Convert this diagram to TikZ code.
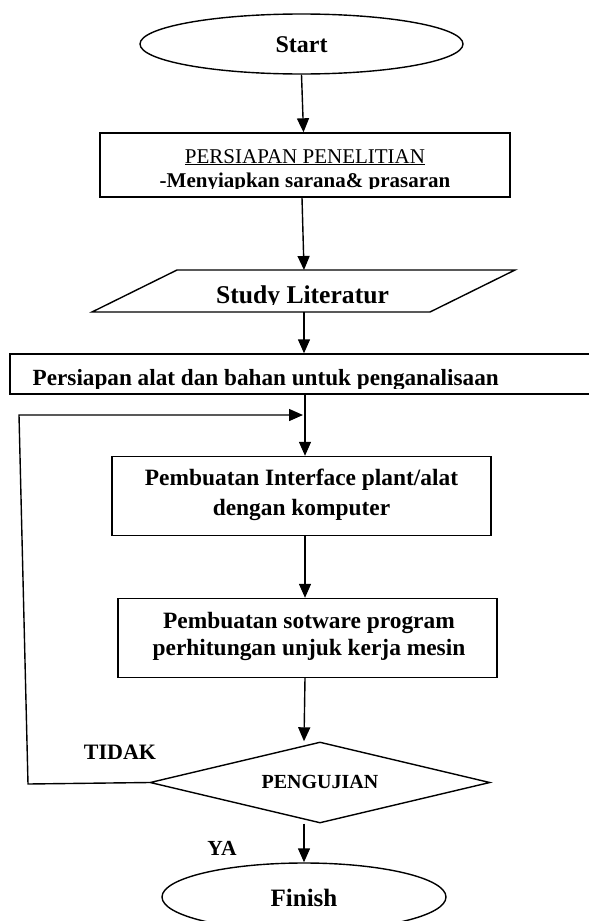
\documentclass[tikz,border=0pt]{standalone}
\usepackage{fontspec}
\setmainfont{Liberation Serif}
\usetikzlibrary{shapes.geometric,arrows.meta}
\begin{document}
\begin{tikzpicture}[x=1pt,y=-1pt,
  line width=1.4pt,
  arr/.style={-{Triangle[length=14pt,width=12pt]}},
  shapebox/.style={draw, rectangle, inner sep=0pt},
  term/.style={draw, ellipse, inner sep=0pt},
  ghost/.style={inner sep=0pt, outer sep=0pt},
  txt/.style={inner sep=0pt, anchor=base},
  lbl/.style={inner sep=0pt, font=\bfseries\fontsize{22}{26}\selectfont}]
\clip (0,0) rectangle (589,921);
\fill[white] (0,0) rectangle (589,921);

% Start
\node[term, minimum width=323pt, minimum height=60pt] (start) at (301.5,44) {};
\node[txt, font=\bfseries\fontsize{24}{28}\selectfont] (tstart) at (301.5,52) {Start};

% Persiapan penelitian
\node[shapebox, minimum width=410pt, minimum height=64pt] (box1) at (305,165) {};
\node[txt, font=\fontsize{21}{24}\selectfont] (t1a) at (305,163) {\underline{PERSIAPAN PENELITIAN}};
\begin{scope}
  \clip (100,133) rectangle (510,188.5);
  \node[txt, font=\bfseries\fontsize{21}{24}\selectfont] (t1b) at (305,187) {-Menyiapkan sarana\& prasaran};
\end{scope}

% Study literatur (parallelogram)
\node[ghost, minimum width=338pt, minimum height=42pt] (para) at (303.5,291) {};
\draw ([xshift=42.5pt]para.north west) -- ([xshift=42.5pt]para.north east)
   -- ([xshift=-42.5pt]para.south east) -- ([xshift=-42.5pt]para.south west) -- cycle;
\begin{scope}
  \clip (0,270) rectangle (589,304.2);
  \node[txt, font=\bfseries\fontsize{25.6}{30}\selectfont] (tpara) at (302.5,303) {Study Literatur};
\end{scope}

% Persiapan alat dan bahan
\node[shapebox, minimum width=590pt, minimum height=40pt] (box3) at (305,374) {};
\begin{scope}
  \clip (10,354) rectangle (589,388);
  \node[inner sep=0pt, anchor=base west, font=\bfseries\fontsize{23.2}{27}\selectfont] (t3) at (32,385) {Persiapan alat dan bahan untuk penganalisaan};
\end{scope}

% Interface
\node[shapebox, minimum width=379pt, minimum height=79pt] (iface) at (301.5,496) {};
\node[txt, font=\bfseries\fontsize{23.4}{28}\selectfont] (t4a) at (301.5,485) {Pembuatan Interface plant/alat};
\node[txt, font=\bfseries\fontsize{23.4}{28}\selectfont] (t4b) at (301.5,515) {dengan komputer};

% Software
\node[shapebox, minimum width=379pt, minimum height=79pt] (soft) at (307.5,638) {};
\node[txt, font=\bfseries\fontsize{23.4}{28}\selectfont] (t5a) at (309,628) {Pembuatan sotware program};
\node[txt, font=\bfseries\fontsize{23.4}{28}\selectfont] (t5b) at (309,655) {perhitungan unjuk kerja mesin};

% Pengujian
\node[draw, diamond, inner sep=0pt, minimum width=340pt, minimum height=81pt, aspect=4.2] (dia) at (320,782.5) {};
\node[inner sep=0pt, font=\bfseries\fontsize{20}{24}\selectfont] (tdia) at (320,782) {PENGUJIAN};

% Finish
\node[term, minimum width=284pt, minimum height=68pt] (finish) at (304,897) {};
\node[txt, font=\bfseries\fontsize{25}{30}\selectfont] (tfin) at (304,906) {Finish};

% labels
\node[lbl] (tidak) at (120,752) {TIDAK};
\node[lbl, font=\bfseries\fontsize{21.5}{26}\selectfont] (ya) at (222,848) {YA};

% feedback coordinates
\coordinate (fb1) at (28,784);
\coordinate (fb2) at (19,415);
\coordinate (fb3) at (303,415);

% connectors
\draw[arr] (start.south) -- (box1.north -| 303.5,0);
\draw[arr] (box1.south -| 302,0) -- (para.north -| 304,0);
\draw[arr] (para.south -| 304,0) -- (box3.north -| 304,0);
\draw[arr] (box3.south) -- (box3.south |- iface.north);
\draw[arr] (box3.south |- iface.south) -- (box3.south |- soft.north);
\draw[arr] (box3.south |- soft.south) -- (finish.north |- dia.north);
\draw[arr] (finish.north |- dia.south) -- (finish.north);
\draw[arr] (dia.west) -- (fb1) -- (fb2) -- (fb3);
\end{tikzpicture}
\end{document}
